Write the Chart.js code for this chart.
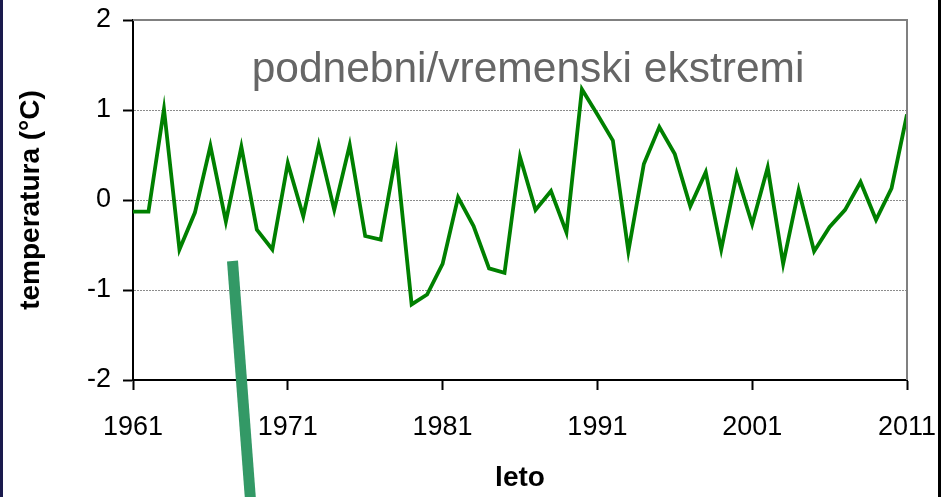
<!DOCTYPE html>
<html>
<head>
<meta charset="utf-8">
<script src="https://cdn.jsdelivr.net/npm/chart.js@4/dist/chart.umd.min.js"></script>
<style>
  body { margin: 0; background: #fff; }
  #wrap { position: relative; width: 941px; height: 497px; }
</style>
</head>
<body>
<div id="wrap"><canvas id="tempChart" width="941" height="497"></canvas></div>
<script>
const years = [1961, 1962, 1963, 1964, 1965, 1966, 1967, 1968, 1969, 1970,
               1971, 1972, 1973, 1974, 1975, 1976, 1977, 1978, 1979, 1980,
               1981, 1982, 1983, 1984, 1985, 1986, 1987, 1988, 1989, 1990,
               1991, 1992, 1993, 1994, 1995, 1996, 1997, 1998, 1999, 2000,
               2001, 2002, 2003, 2004, 2005, 2006, 2007, 2008, 2009, 2010,
               2011];
const temps = [-0.13, -0.13, 1.01, -0.55, -0.14, 0.60, -0.24, 0.59, -0.33, -0.55,
               0.41, -0.18, 0.61, -0.11, 0.61, -0.40, -0.44, 0.51, -1.16, -1.05,
               -0.71, 0.03, -0.29, -0.76, -0.81, 0.48, -0.11, 0.10, -0.36, 1.23,
               0.95, 0.66, -0.57, 0.40, 0.81, 0.51, -0.07, 0.31, -0.55, 0.29,
               -0.27, 0.36, -0.71, 0.11, -0.57, -0.30, -0.11, 0.20, -0.22, 0.13,
               0.95];
const xTickYears = [1961, 1971, 1981, 1991, 2001, 2011];
const yTickValues = [-2, -1, 0, 1, 2];

const chartTitle = 'podnebni/vremenski ekstremi';
const fontFamily = '"Liberation Sans", Arial, sans-serif';

// frame, title inside the plot, the green stripe and the page edges
const decorations = {
    id: 'decorations',
    afterDraw(chart) {
        const { ctx, chartArea: a } = chart;
        ctx.save();

        // grey top and right frame of the plot area
        ctx.strokeStyle = '#808080';
        ctx.lineWidth = 2;
        ctx.beginPath();
        ctx.moveTo(a.left, a.top);
        ctx.lineTo(a.right, a.top);
        ctx.lineTo(a.right, a.bottom);
        ctx.stroke();

        // title text
        ctx.fillStyle = '#666666';
        ctx.font = '42.5px ' + fontFamily;
        ctx.textAlign = 'center';
        ctx.textBaseline = 'alphabetic';
        ctx.fillText(chartTitle, 528, 82);

        // slanted green stripe
        ctx.strokeStyle = '#339966';
        ctx.lineWidth = 11;
        ctx.lineCap = 'butt';
        ctx.beginPath();
        ctx.moveTo(232.5, 261);
        ctx.lineTo(250.5, 500);
        ctx.stroke();

        // page edges
        ctx.fillStyle = '#1a1a4d';
        ctx.fillRect(0, 0, 3, chart.height);
        ctx.fillStyle = '#000000';
        ctx.fillRect(938, 0, 3, chart.height);

        ctx.restore();
    }
};

const ctx = document.getElementById('tempChart').getContext('2d');
new Chart(ctx, {
    type: 'line',
    data: {
        datasets: [{
            data: years.map((yr, i) => ({ x: yr, y: temps[i] })),
            borderColor: '#008000',
            borderWidth: 3.8,
            pointRadius: 0,
            tension: 0,
            fill: false
        }]
    },
    options: {
        responsive: false,
        animation: false,
        events: [],
        layout: { padding: { top: 20, right: 34, bottom: 0, left: 0 } },
        plugins: {
            legend: { display: false },
            tooltip: { enabled: false }
        },
        scales: {
            x: {
                type: 'linear',
                min: 1961,
                max: 2011,
                afterBuildTicks: (scale) => {
                    scale.ticks = xTickYears.map(v => ({ value: v }));
                },
                afterFit: (scale) => {
                    scale.height = 117;
                    scale.paddingLeft = 0;
                    scale.paddingRight = 0;
                },
                ticks: {
                    color: '#000',
                    font: { family: fontFamily, size: 27 },
                    padding: 21,
                    maxRotation: 0,
                    callback: (v) => String(v)
                },
                grid: {
                    drawOnChartArea: false,
                    drawTicks: true,
                    tickLength: 10,
                    tickColor: '#000',
                    tickWidth: 2
                },
                border: { display: true, color: '#000', width: 2 },
                title: {
                    display: true,
                    text: 'leto',
                    color: '#000',
                    font: { family: fontFamily, size: 28, weight: 'bold' },
                    padding: { top: 0, bottom: 2 }
                }
            },
            y: {
                min: -2,
                max: 2,
                afterBuildTicks: (scale) => {
                    scale.ticks = yTickValues.map(v => ({ value: v }));
                },
                afterFit: (scale) => {
                    scale.width = 133;
                    scale.paddingTop = 0;
                    scale.paddingBottom = 0;
                },
                ticks: {
                    color: '#000',
                    font: { family: fontFamily, size: 27 },
                    padding: 12
                },
                grid: {
                    color: (c) => (c.tick && (c.tick.value === 1 || c.tick.value === 0 || c.tick.value === -1)) ? '#8c8c8c' : 'rgba(0,0,0,0)',
                    lineWidth: 1,
                    drawTicks: true,
                    tickLength: 10,
                    tickColor: '#000',
                    tickWidth: 2,
                    tickBorderDash: []
                },
                border: { display: true, color: '#000', width: 2, dash: [2, 1] },
                title: {
                    display: true,
                    text: 'temperatura (°C)',
                    color: '#000',
                    font: { family: fontFamily, size: 28, weight: 'bold' },
                    padding: { top: 14, bottom: 0 }
                }
            }
        }
    },
    plugins: [decorations]
});
</script>
</body>
</html>
